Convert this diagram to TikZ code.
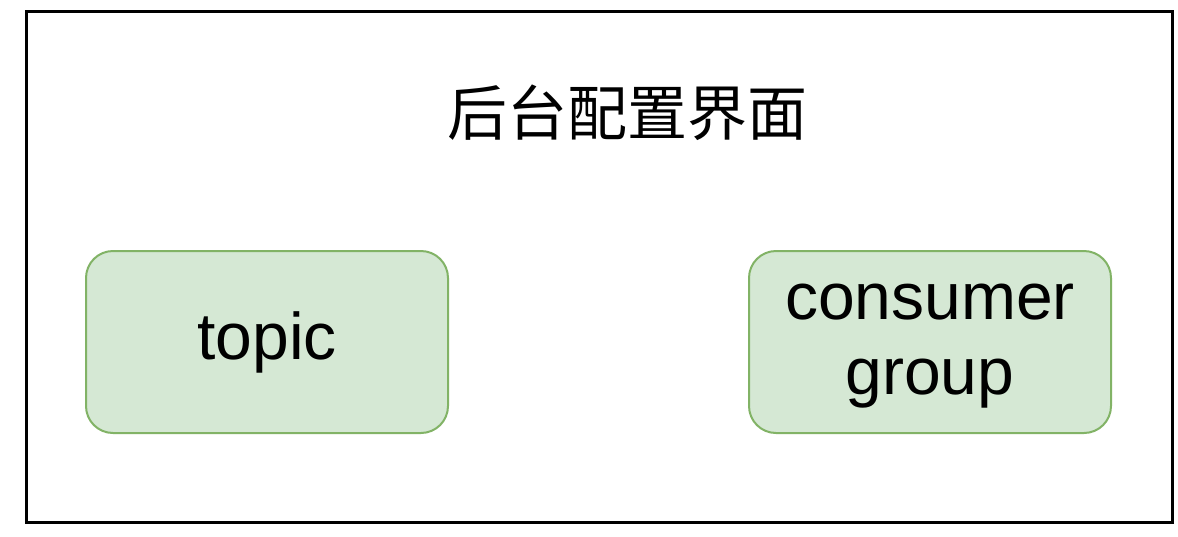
\documentclass[tikz,border=0pt]{standalone}
\usepackage{fontspec}
\setmainfont{Liberation Sans}
\newfontfamily\cjk{Noto Sans CJK SC}
\definecolor{boxfill}{HTML}{D5E8D4}
\definecolor{boxline}{HTML}{82B366}
\begin{document}
\begin{tikzpicture}[x=1pt,y=-1pt,
  greenbox/.style={draw=boxline,line width=2pt,fill=boxfill,rounded corners=27pt,
    minimum width=362pt,minimum height=182pt,inner sep=0pt,anchor=north west,
    align=center,font=\fontsize{66}{75}\selectfont},
  frame/.style={draw=black,line width=2.6pt}]
\useasboundingbox (0,0) rectangle (1178,536);
\fill[white] (0,0) rectangle (1178,536);
\node[frame,minimum width=1146pt,minimum height=511pt,inner sep=0pt,anchor=north west] (outer) at (25,10) {};
\node[font=\cjk\fontsize{60}{60}\selectfont,inner sep=0pt] (title) at (627,113) {后台配置界面};
\node[greenbox] (topic) at (85,250) {\raisebox{-3pt}{topic}};
\node[greenbox] (cg) at (748,250) {\raisebox{-5pt}{\begin{tabular}{@{}c@{}}consumer\\group\end{tabular}}};
\end{tikzpicture}
\end{document}
